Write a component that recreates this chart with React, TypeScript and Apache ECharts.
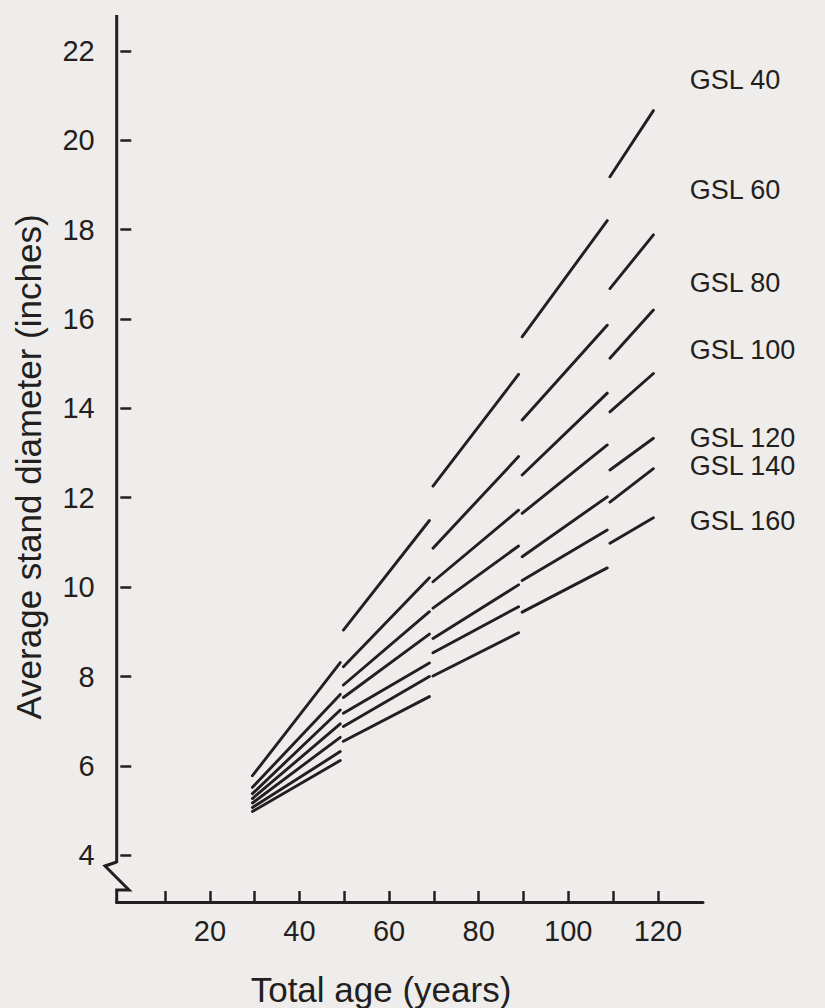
import React, { useEffect, useRef } from "react";
import * as echarts from "echarts";

// ---- data ----
const SEG_START_AGE = [29.5, 49.8, 69.8, 89.7, 109.3];
const SEG_END_AGE = [49.1, 69.0, 88.9, 108.7, 119.0];

const GSL40_START = [5.78, 9.04, 12.26, 15.6, 19.18];
const GSL40_END = [8.31, 11.49, 14.76, 18.2, 20.66];
const GSL60_START = [5.52, 8.22, 10.87, 13.74, 16.68];
const GSL60_END = [7.6, 10.21, 12.92, 15.86, 17.88];
const GSL80_START = [5.38, 7.81, 10.12, 12.51, 15.12];
const GSL80_END = [7.25, 9.45, 11.72, 14.34, 16.2];
const GSL100_START = [5.27, 7.53, 9.53, 11.65, 13.92];
const GSL100_END = [6.94, 8.95, 10.92, 13.18, 14.78];
const GSL120_START = [5.17, 7.18, 8.85, 10.68, 12.62];
const GSL120_END = [6.64, 8.3, 10.05, 12.02, 13.33];
const GSL140_START = [5.07, 6.88, 8.53, 10.15, 11.9];
const GSL140_END = [6.32, 8.0, 9.56, 11.28, 12.65];
const GSL160_START = [4.98, 6.55, 8.01, 9.44, 10.98];
const GSL160_END = [6.12, 7.55, 8.98, 10.43, 11.55];

const GSL_NAMES = ["GSL 40", "GSL 60", "GSL 80", "GSL 100", "GSL 120", "GSL 140", "GSL 160"];
const LABEL_AGE = 127.1;
const LABEL_VALUES = [21.34, 18.88, 16.8, 15.3, 13.34, 12.71, 11.48];

const X_TICKS = [10, 20, 30, 40, 50, 60, 70, 80, 90, 100, 110, 120];
const X_LABELS = [20, 40, 60, 80, 100, 120];
const Y_TICKS = [4, 6, 8, 10, 12, 14, 16, 18, 20, 22];

const INK = "#231f20";
const BG = "#efedeb";
const FONT = "'Liberation Sans', Arial, Helvetica, sans-serif";

function buildData(starts: number[], ends: number[]) {
  const out: any[] = [];
  for (let i = 0; i < starts.length; i++) {
    out.push([SEG_START_AGE[i], starts[i]]);
    out.push([SEG_END_AGE[i], ends[i]]);
    if (i < starts.length - 1) out.push([SEG_END_AGE[i], "-"]);
  }
  return out;
}

const STARTS = [GSL40_START, GSL60_START, GSL80_START, GSL100_START, GSL120_START, GSL140_START, GSL160_START];
const ENDS = [GSL40_END, GSL60_END, GSL80_END, GSL100_END, GSL120_END, GSL140_END, GSL160_END];

export default function App() {
  const ref = useRef<HTMLDivElement>(null);
  useEffect(() => {
    document.body.style.margin = "0";
    document.body.style.background = BG;
    const chart = echarts.init(ref.current!, null, { renderer: "svg" });

    const gridLeft = 116.7;
    const gridTop = 15;
    const gridBottomY = 902;

    const lineSeries = GSL_NAMES.map((name, k) => ({
      type: "line",
      name,
      data: buildData(STARTS[k], ENDS[k]),
      showSymbol: false,
      symbol: "none",
      connectNulls: false,
      lineStyle: { color: INK, width: 2.9, cap: "round" },
      silent: true,
    }));

    const labelSeries = {
      type: "scatter",
      symbolSize: 0,
      silent: true,
      itemStyle: { opacity: 1, color: INK },
      data: GSL_NAMES.map((n, i) => ({ name: n, value: [LABEL_AGE, LABEL_VALUES[i]] })),
      label: {
        show: true,
        position: "right",
        distance: 0,
        formatter: (p: any) => p.name,
        color: INK,
        opacity: 1,
        fontSize: 27,
        fontFamily: FONT,
      },
    };

    chart.setOption({
      animation: false,
      backgroundColor: BG,
      grid: { left: gridLeft, top: gridTop, width: 586.3, height: gridBottomY - gridTop },
      xAxis: {
        type: "value",
        min: -0.8,
        max: 130.07,
        axisLine: { show: true, onZero: false, lineStyle: { color: INK, width: 3 } },
        axisTick: {
          show: true,
          inside: true,
          length: 11,
          customValues: X_TICKS,
          lineStyle: { color: INK, width: 2.5 },
        },
        axisLabel: {
          customValues: X_LABELS,
          color: INK,
          fontSize: 29,
          fontFamily: FONT,
          margin: 14,
        },
        splitLine: { show: false },
      },
      yAxis: {
        type: "value",
        min: 2.955,
        max: 22.8,
        axisLine: { show: false },
        axisTick: {
          show: true,
          inside: true,
          length: 11,
          customValues: Y_TICKS,
          lineStyle: { color: INK, width: 2.5 },
        },
        axisLabel: {
          customValues: Y_TICKS,
          color: INK,
          fontSize: 29,
          fontFamily: FONT,
          margin: 22,
        },
        splitLine: { show: false },
      },
      series: [...lineSeries, labelSeries],
      graphic: [
        {
          type: "line",
          silent: true,
          shape: { x1: gridLeft, y1: gridTop, x2: gridLeft, y2: 863 },
          style: { stroke: INK, lineWidth: 3 },
        },
        {
          type: "polyline",
          silent: true,
          shape: {
            points: [
              [gridLeft, 862],
              [105, 866],
              [129, 890],
              [gridLeft, 890],
              [gridLeft, gridBottomY + 1.5],
            ],
          },
          style: { stroke: INK, lineWidth: 3, fill: null },
        },
        {
          type: "text",
          x: 28,
          y: 467,
          rotation: Math.PI / 2,
          silent: true,
          style: {
            text: "Average stand diameter (inches)",
            fill: INK,
            fontSize: 35,
            fontFamily: FONT,
            align: "center",
            verticalAlign: "middle",
          },
        },
        {
          type: "text",
          x: 381,
          y: 989,
          silent: true,
          style: {
            text: "Total age (years)",
            fill: INK,
            fontSize: 35,
            fontFamily: FONT,
            align: "center",
            verticalAlign: "middle",
          },
        },
      ],
    });
    return () => chart.dispose();
  }, []);
  return <div ref={ref} style={{ width: 825, height: 1008 }} />;
}
